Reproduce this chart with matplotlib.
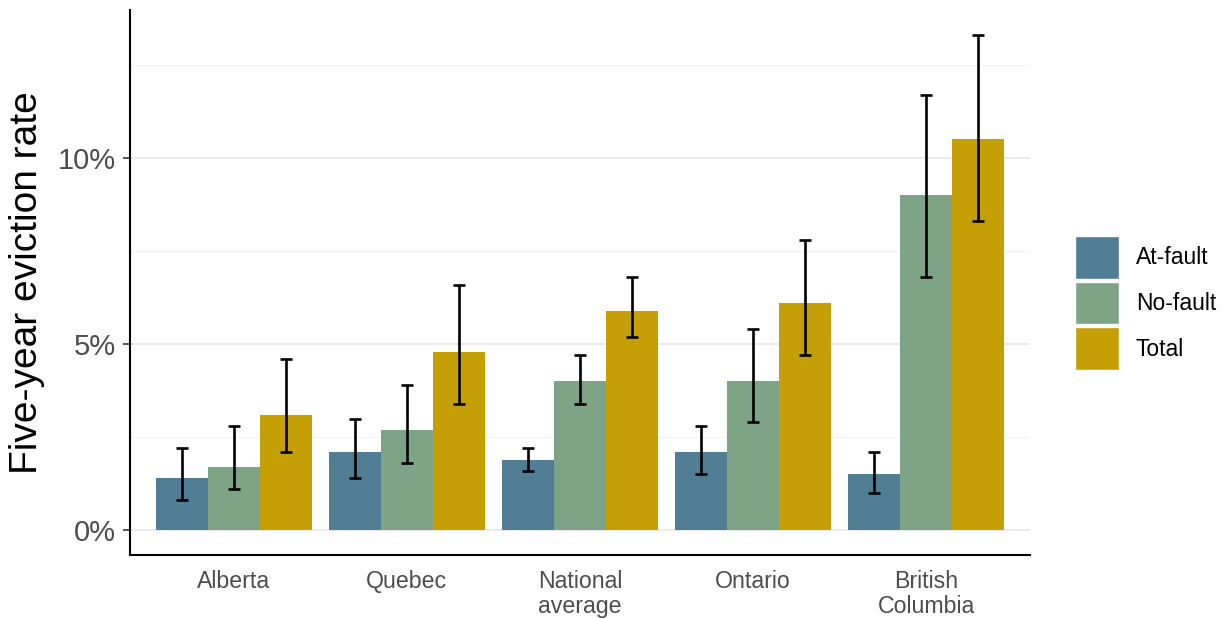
import numpy as np
import matplotlib
matplotlib.use("Agg")
import matplotlib.pyplot as plt
from matplotlib.patches import Patch
from matplotlib.ticker import MultipleLocator, FuncFormatter

plt.rcParams["font.family"] = ["Liberation Sans", "DejaVu Sans"]

regions = ["Alberta", "Quebec", "National\naverage", "Ontario", "British\nColumbia"]
series = ["At-fault", "No-fault", "Total"]
colors = ["#517E94", "#7FA387", "#C4A006"]

# eviction rates (%) with lower / upper confidence bounds
at_fault = [1.4, 2.1, 1.9, 2.1, 1.5]
at_fault_lo = [0.8, 1.4, 1.6, 1.5, 1.0]
at_fault_hi = [2.2, 3.0, 2.2, 2.8, 2.1]

no_fault = [1.7, 2.7, 4.0, 4.0, 9.0]
no_fault_lo = [1.1, 1.8, 3.4, 2.9, 6.8]
no_fault_hi = [2.8, 3.9, 4.7, 5.4, 11.7]

total = [3.1, 4.8, 5.9, 6.1, 10.5]
total_lo = [2.1, 3.4, 5.2, 4.7, 8.3]
total_hi = [4.6, 6.6, 6.8, 7.8, 13.3]

values = [at_fault, no_fault, total]
lows = [at_fault_lo, no_fault_lo, total_lo]
highs = [at_fault_hi, no_fault_hi, total_hi]

fig = plt.figure(figsize=(12.25, 6.18), dpi=100)
ax = fig.add_axes([130 / 1225, 1 - 555 / 618, 900 / 1225, 545 / 618])

x = np.arange(1, len(regions) + 1)
dodge = 0.9
w = dodge / len(series)
for i, (name, vals, lo, hi, c) in enumerate(zip(series, values, lows, highs, colors)):
    xs = x - dodge / 2 + w * (i + 0.5)
    vals = np.array(vals)
    ax.bar(xs, vals, width=w, color=c, linewidth=0, zorder=2)
    yerr = np.vstack([vals - np.array(lo), np.array(hi) - vals])
    ax.errorbar(xs, vals, yerr=yerr, fmt="none", ecolor="black",
                elinewidth=1.9, capsize=4.3, capthick=1.9, zorder=3)

ax.set_xlim(0.4, 5.6)
ax.set_ylim(-0.666, 13.98)
ax.yaxis.set_major_locator(MultipleLocator(5))
ax.yaxis.set_minor_locator(MultipleLocator(2.5))
ax.yaxis.set_major_formatter(FuncFormatter(lambda v, p: f"{v:.0f}%"))
ax.set_xticks(x)
ax.set_xticklabels(regions, linespacing=1.1)

ax.grid(axis="y", which="major", color="#EBEBEB", linewidth=1.5, zorder=0)
ax.grid(axis="y", which="minor", color="#F3F3F3", linewidth=0.8, zorder=0)
ax.grid(axis="x", which="both", visible=False)
ax.set_axisbelow(True)

for side in ["top", "right"]:
    ax.spines[side].set_visible(False)
for side in ["left", "bottom"]:
    ax.spines[side].set_color("black")
    ax.spines[side].set_linewidth(1.5)

ax.tick_params(axis="y", which="major", length=5, width=1.2, color="#333333",
               labelsize=21, labelcolor="#4D4D4D", pad=5)
ax.tick_params(axis="y", which="minor", length=0)
ax.tick_params(axis="x", length=0, labelsize=16.7, labelcolor="#4D4D4D", pad=11)

ax.set_ylabel("Five-year eviction rate", fontsize=28, color="black", labelpad=9)

handles = [Patch(facecolor=c, edgecolor="white", linewidth=1.0) for c in colors]
leg = fig.legend(handles, series, loc="center left",
                 bbox_to_anchor=(1075 / 1225, 1 - 303 / 618),
                 frameon=False, fontsize=16.5, handlelength=1.9, handleheight=2.45,
                 labelspacing=0.15, handletextpad=0.75, borderpad=0, borderaxespad=0)

fig.savefig("out.png", dpi=100, facecolor="white")
